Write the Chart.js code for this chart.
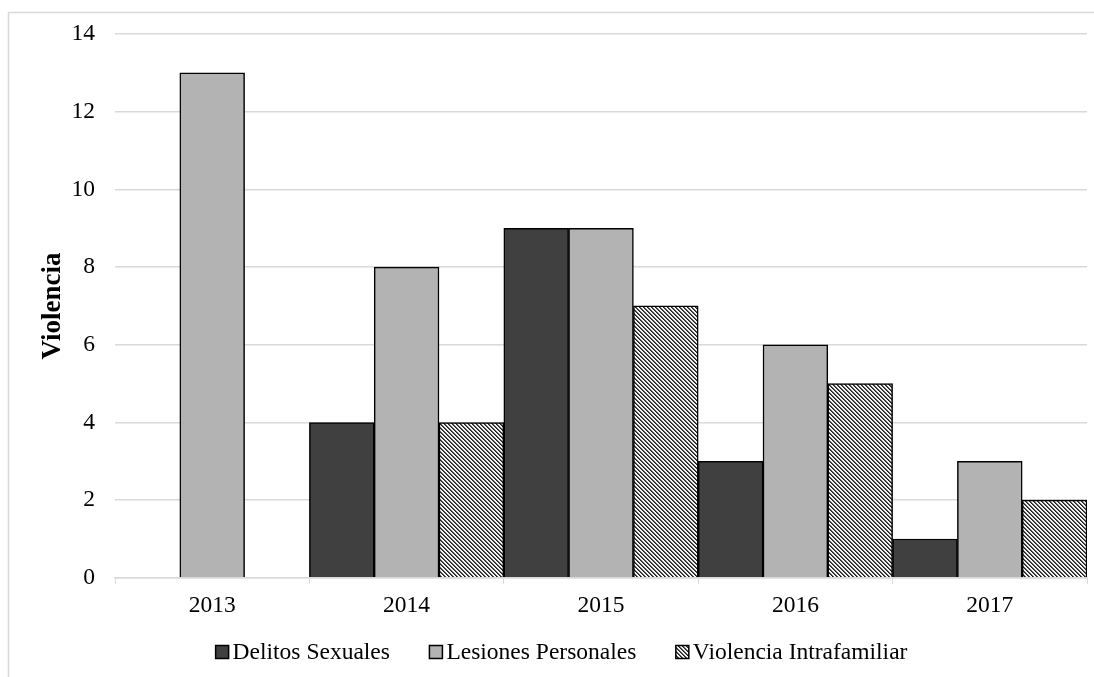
<!DOCTYPE html>
<html><head><meta charset="utf-8">
<script src="https://cdn.jsdelivr.net/npm/chart.js@4.4.0/dist/chart.umd.min.js"></script>
<style>html,body{margin:0;padding:0;background:#fff;}#wrap{width:1094px;height:677px;}</style>
</head><body><div id="wrap"><canvas id="c" width="1094" height="677"></canvas></div>
<script>
const years = ['2013','2014','2015','2016','2017'];
const delitosSexuales = [null, 4, 9, 3, 1];
const lesionesPersonales = [13, 8, 9, 6, 3];
const violenciaIntrafamiliar = [null, 4, 7, 5, 2];
const yTicksMax = 14;
const yTicksStep = 2;

function hatch(){
  const c = document.createElement('canvas'); c.width = 4; c.height = 4;
  const g = c.getContext('2d');
  g.fillStyle = '#f4f4f4'; g.fillRect(0,0,4,4);
  for (let i=0;i<4;i++){
    g.fillStyle = '#1e1e1e'; g.fillRect(i,i,1,1);
    g.fillStyle = '#5a5a5a'; g.fillRect((i+1)%4,i,1,1);
  }
  return g.createPattern(c,'repeat');
}
const fam = '"Liberation Serif", "Times New Roman", serif';
const font = {family:fam, size:23.5};

const frame = {id:'frame', beforeDraw(ch){const x=ch.ctx; x.save(); x.fillStyle='#fff'; x.fillRect(0,0,ch.width,ch.height); x.strokeStyle='#d9d9d9'; x.lineWidth=1.5; x.strokeRect(8.5,12.5,3000,3000); x.restore();}};

// Legend drawn from the datasets (Excel-style: box tight to text, wide gaps)
const excelLegend = {id:'excelLegend', afterDraw(ch){
  const x = ch.ctx; x.save();
  x.font = font.size + 'px ' + fam; x.textBaseline = 'middle'; x.textAlign = 'left';
  const box = 13, gapBT = 4, gapItems = 39.5, cy = 652, cx = 561.5;
  const items = ch.data.datasets.map(d => ({label:d.label, fill:d.backgroundColor, w: box + gapBT + x.measureText(d.label).width}));
  const total = items.reduce((s,i)=>s+i.w,0) + gapItems*(items.length-1);
  let px = cx - total/2;
  items.forEach(it => {
    x.fillStyle = it.fill; x.fillRect(px, cy - box/2, box, box);
    x.strokeStyle = '#000'; x.lineWidth = 1.5; x.strokeRect(px, cy - box/2, box, box);
    x.fillStyle = '#000'; x.fillText(it.label, px + box + gapBT, cy + 1);
    px += it.w + gapItems;
  });
  x.restore();
}};

new Chart(document.getElementById('c'), {
  type:'bar',
  data:{labels:years, datasets:[
    {label:'Delitos Sexuales', data:delitosSexuales, backgroundColor:'#404040', borderColor:'#000', borderWidth:1.5},
    {label:'Lesiones Personales', data:lesionesPersonales, backgroundColor:'#b3b3b3', borderColor:'#000', borderWidth:1.5},
    {label:'Violencia Intrafamiliar', data:violenciaIntrafamiliar, backgroundColor:hatch(), borderColor:'#000', borderWidth:1.5}
  ]},
  options:{
    responsive:false, animation:false, devicePixelRatio:1,
    categoryPercentage:1.0, barPercentage:1.0,
    layout:{padding:{left:35, right:7, top:34, bottom:49}},
    plugins:{ legend:{display:false}, tooltip:{enabled:false} },
    scales:{
      x:{grid:{drawOnChartArea:false, drawTicks:true, tickLength:6, color:'#d9d9d9', offset:true},
         border:{color:'#d9d9d9', width:1.5},
         ticks:{font:font, color:'#000', padding:8}},
      y:{min:0, max:yTicksMax, ticks:{stepSize:yTicksStep, font:font, color:'#000', padding:20},
         grid:{color:'#d9d9d9', lineWidth:1.5, drawTicks:false},
         border:{display:false},
         afterFit(s){ s.width = 80; },
         title:{display:true, text:'Violencia', color:'#000', font:{family:fam, size:27, weight:'bold'}, padding:{top:2,bottom:0}}}
    }
  },
  plugins:[frame, excelLegend]
});
</script></body></html>
